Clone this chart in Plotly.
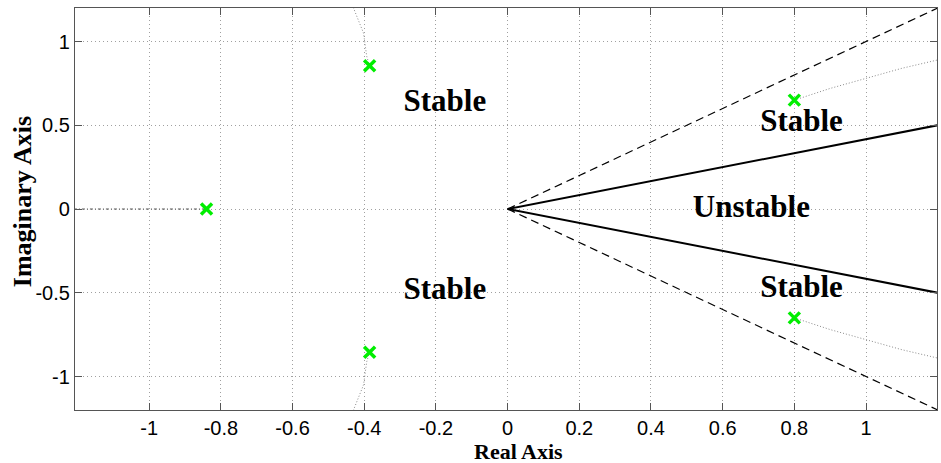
import plotly.graph_objects as go

# Closed-loop poles
pole_re = [-0.84, -0.385, -0.385, 0.80, 0.80]
pole_im = [0.0, 0.855, -0.855, 0.65, -0.65]

# Stability boundary rays from the origin to the plot edge
ray_x = [0.0, 1.2]
dashed_up_y = [0.0, 1.2]
dashed_dn_y = [0.0, -1.2]
solid_up_y = [0.0, 0.5]
solid_dn_y = [0.0, -0.5]

# Root-locus branches leaving the poles
left_up_x = [-0.385, -0.393, -0.402, -0.43]
left_up_y = [0.855, 0.911, 1.05, 1.2]
left_dn_x = [-0.385, -0.393, -0.402, -0.43]
left_dn_y = [-0.855, -0.911, -1.05, -1.2]
right_up_x = [0.80, 0.90, 1.00, 1.10, 1.20]
right_up_y = [0.65, 0.72, 0.78, 0.84, 0.89]
right_dn_x = [0.80, 0.90, 1.00, 1.10, 1.20]
right_dn_y = [-0.65, -0.72, -0.78, -0.84, -0.89]
real_branch_x = [-1.21, -0.84]
real_branch_y = [0.0, 0.0]

# Region labels
region_text = ["Stable", "Stable", "Stable", "Stable", "Unstable"]
region_x = [-0.175, -0.175, 0.82, 0.82, 0.68]
region_y = [0.63, -0.49, 0.51, -0.48, 0.0]

x_ticks = [-1, -0.8, -0.6, -0.4, -0.2, 0, 0.2, 0.4, 0.6, 0.8, 1]
y_ticks = [-1, -0.5, 0, 0.5, 1]

fig = go.Figure()

def add_line(x, y, color, width, dash):
    fig.add_trace(go.Scatter(x=x, y=y, mode="lines", hoverinfo="skip",
                             line=dict(color=color, width=width, dash=dash)))

locus_style = dict(color="#8a8a8a", width=1, dash="1px,2px")
for bx, by in [(left_up_x, left_up_y), (left_dn_x, left_dn_y),
               (right_up_x, right_up_y), (right_dn_x, right_dn_y)]:
    add_line(bx, by, **locus_style)
add_line(real_branch_x, real_branch_y, "#555555", 1, "3px,2px,1px,2px")

add_line(ray_x, dashed_up_y, "#000000", 1.2, "8px,5px")
add_line(ray_x, dashed_dn_y, "#000000", 1.2, "8px,5px")
add_line(ray_x, solid_up_y, "#000000", 2, "solid")
add_line(ray_x, solid_dn_y, "#000000", 2, "solid")

fig.add_trace(go.Scatter(
    x=pole_re, y=pole_im, mode="markers", hoverinfo="skip",
    marker=dict(symbol="x-thin", size=11, color="#00ee00",
                line=dict(color="#00ee00", width=3.5)),
))

fig.add_trace(go.Scatter(
    x=region_x, y=region_y, mode="text", text=region_text, hoverinfo="skip",
    textposition="middle center",
    textfont=dict(family="Liberation Serif", size=31, color="#000000",
                  weight="bold"),
))

axis_common = dict(
    showline=True, linecolor="#555555", linewidth=1.3, mirror="ticks",
    ticks="inside", ticklen=7, tickcolor="#555555", tickwidth=1.3,
    showgrid=True, gridcolor="#a0a0a0", gridwidth=1, griddash="1px,3px",
    zeroline=False,
    tickfont=dict(family="Liberation Sans", size=20, color="#000000"),
)

title_font = dict(family="Liberation Serif", color="#000000", weight="bold")

fig.update_layout(
    width=941, height=463,
    margin=dict(l=75, r=4, t=8, b=53),
    paper_bgcolor="white", plot_bgcolor="white",
    showlegend=False,
    xaxis=dict(range=[-1.207, 1.198], tickvals=x_ticks,
               ticktext=[f"{v:g}" for v in x_ticks], **axis_common),
    yaxis=dict(range=[-1.2, 1.2], tickvals=y_ticks,
               ticktext=[f"{v:g}" for v in y_ticks], **axis_common),
    annotations=[
        dict(text="Real Axis", xref="paper", yref="paper",
             x=0.514, y=-0.1315, xanchor="center", yanchor="bottom",
             height=22, valign="middle", borderpad=0,
             showarrow=False, font=dict(size=22, **title_font)),
        dict(text="Imaginary Axis", xref="paper", yref="paper",
             x=-0.061, y=0.518, xanchor="center", yanchor="middle",
             textangle=-90, showarrow=False,
             font=dict(size=26, **title_font)),
    ],
)

fig.write_html("out.html")
